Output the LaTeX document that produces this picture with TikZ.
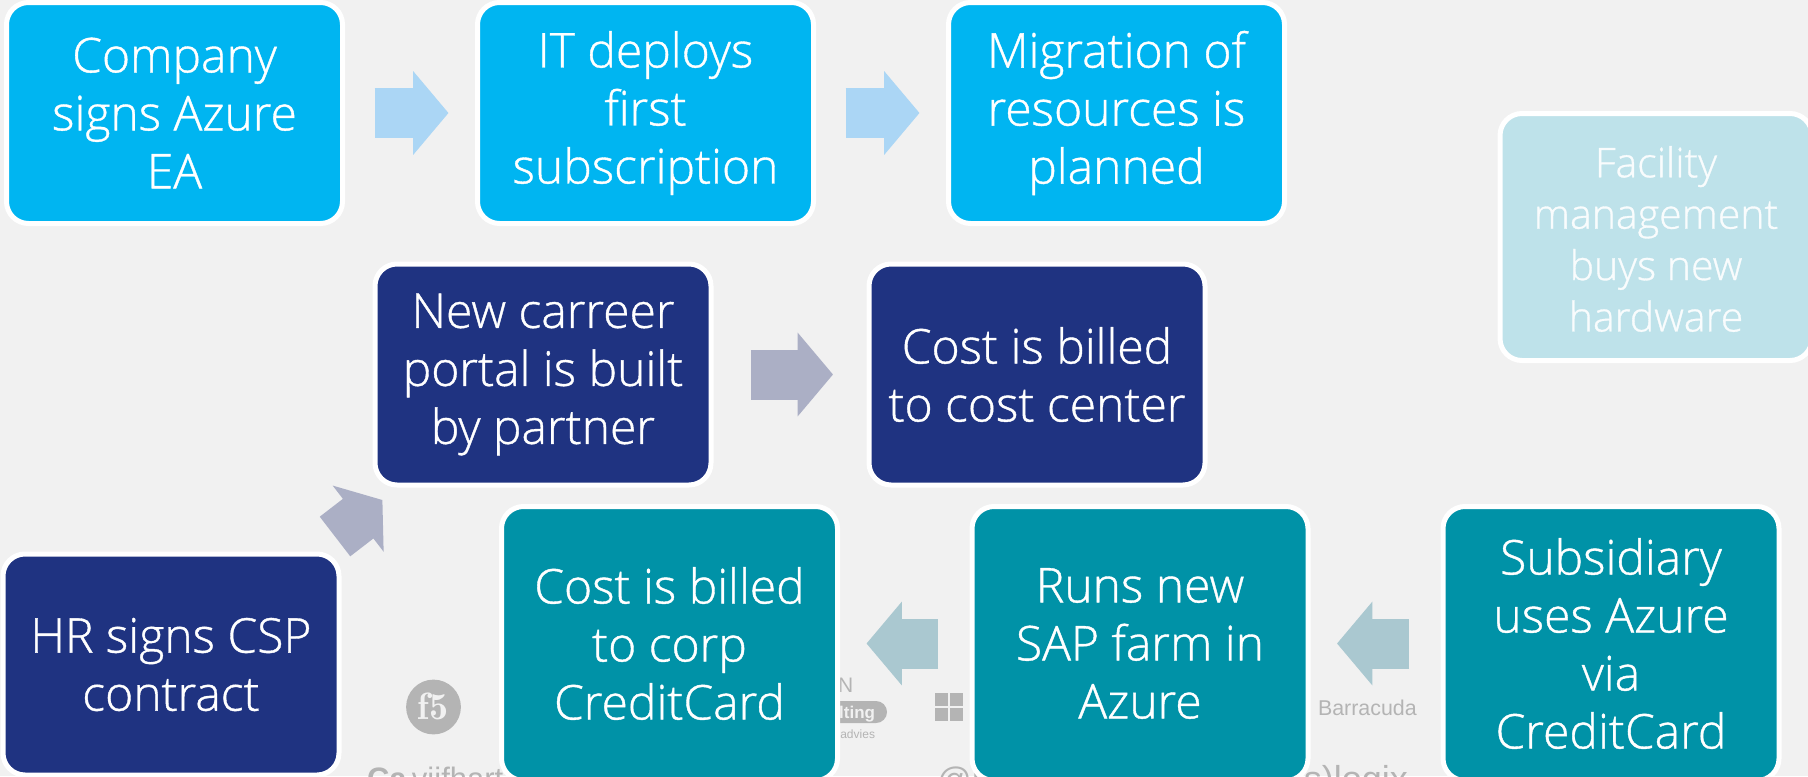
\documentclass[tikz,border=0pt]{standalone}
\usepackage{fontspec}
\setmainfont{Open Sans Light}[FakeBold=0.8,AutoFakeBold=false]
\newfontfamily\logofont{Liberation Sans}
\usetikzlibrary{arrows.meta,calc}
\definecolor{pagebg}{HTML}{F1F1F1}
\definecolor{cyanbox}{HTML}{00B5F1}
\definecolor{navybox}{HTML}{1F3381}
\definecolor{tealbox}{HTML}{0092A7}
\definecolor{palebox}{HTML}{BEE2EA}
\definecolor{cyanarrow}{HTML}{ABD6F5}
\definecolor{navyarrow}{HTML}{ABAFC5}
\definecolor{tealarrow}{HTML}{AAC8D0}
\definecolor{logogray}{HTML}{B4B4B4}
\tikzset{
  x=0.5pt,y=-0.5pt,
  stepbox/.style={draw=white,line width=2.5pt,rounded corners=11pt,text=white,align=center,
    minimum width=168pt,minimum height=110.5pt,inner sep=0pt,outer sep=0pt,
    font=\fontsize{24}{29}\selectfont},
  blockarrow/.style={line width=25pt,-{Triangle[length=17.7pt,width=41pt]}},
  logotext/.style={text=logogray,inner sep=0pt,outer sep=0pt,font=\logofont},
}
\begin{document}
\begin{tikzpicture}
\useasboundingbox (0,0) rectangle (1808,776);
\clip (0,0) rectangle (1808,776);
\fill[pagebg] (0,0) rectangle (1808,776);
% faint logos behind the boxes
\fill[logogray] (433.5,707) circle (13.7pt);
\node[logotext,text=pagebg,font=\fontfamily{lmr}\bfseries\fontsize{19}{19}\selectfont] (lgf) at (433,706) {f5};
\node[logotext,anchor=base west,font=\logofont\fontsize{15.5}{15.5}\selectfont] (lgv) at (367,789) {\textbf{Ca}\,vijfhart};
\node[logotext,anchor=base west,font=\logofont\fontsize{10.5}{10.5}\selectfont] (lgn) at (838,692) {N};
\fill[logogray,rounded corners=5.5pt] (800,701) rectangle (887,723);
\node[logotext,text=pagebg,anchor=base east,font=\logofont\bfseries\fontsize{8.5}{8.5}\selectfont] (lgu) at (875,718) {ulting};
\node[logotext,anchor=base east,font=\logofont\fontsize{6}{6}\selectfont] (lga) at (875,738) {advies};
\foreach \wx/\wy in {935/693,950/693,935/708,950/708}{\fill[logogray] (\wx,\wy) rectangle ++(13,13);}
\node[logotext,anchor=base west,font=\logofont\fontsize{10.7}{10.7}\selectfont] (lgb) at (1318,715) {Barracuda};
\node[logotext,anchor=base west,font=\logofont\fontsize{17}{17}\selectfont] (lgl) at (937,791) {@L};
\node[logotext,anchor=base east,font=\logofont\fontsize{18}{18}\selectfont] (lgp) at (1408,791) {ps)logix};
% boxes
\node[stepbox,fill=cyanbox] (company) at (174.5,113) {Company\\signs Azure\\EA};
\node[stepbox,fill=cyanbox] (itdeploys) at (645.5,113) {IT deploys\\first\\subscription};
\node[stepbox,fill=cyanbox] (migration) at (1116.5,113) {Migration of\\resources is\\planned};
\node[stepbox,fill=palebox,minimum width=156pt,minimum height=123.5pt,
  label={[text=white!90!palebox,align=center,inner sep=0pt,yshift=-1pt,font=\fontsize{20.5}{25.7}\selectfont]center:{Facility\\management\\buys new\\hardware}}] (facility) at (1656,237) {};
\node[stepbox,fill=navybox] (portal) at (543,374.5) {New carreer\\portal is built\\by partner};
\node[stepbox,fill=navybox] (costcenter) at (1037,374.5) {Cost is billed\\to cost center};
\node[stepbox,fill=navybox] (hr) at (171,664.5) {HR signs CSP\\contract};
\node[stepbox,fill=tealbox,minimum height=137pt] (corp) at (669.5,643.5) {Cost is billed\\to corp\\CreditCard};
\node[stepbox,fill=tealbox,minimum height=137pt] (sap) at (1140,643.5) {Runs new\\SAP farm in\\Azure};
\node[stepbox,fill=tealbox,minimum height=137pt] (subsidiary) at (1611,643.5) {Subsidiary\\uses Azure\\via\\CreditCard};
% block arrows
\draw[blockarrow,cyanarrow,shorten <=16pt,shorten >=14.5pt] (company) -- (itdeploys);
\draw[blockarrow,cyanarrow,shorten <=16pt,shorten >=14.5pt] (itdeploys) -- (migration);
\draw[blockarrow,navyarrow,shorten <=20pt,shorten >=18pt] (portal) -- (costcenter);
\draw[blockarrow,tealarrow,shorten <=17pt,shorten >=14.5pt] (subsidiary) -- (sap);
\draw[blockarrow,tealarrow,shorten <=17pt,shorten >=14.5pt] (sap) -- (corp);
\coordinate (diagtail) at (335,536.5);
\coordinate (diagtip) at (382.4,500);
\draw[blockarrow,navyarrow,-{Triangle[length=15.3pt,width=41pt]}] (diagtail) -- (diagtip);
\end{tikzpicture}
\end{document}
